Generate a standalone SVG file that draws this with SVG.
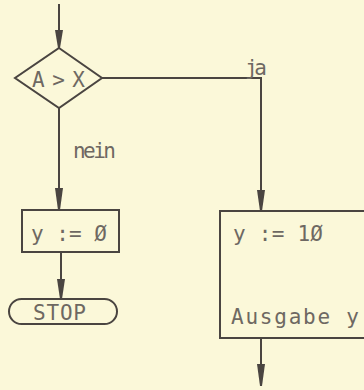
<svg xmlns="http://www.w3.org/2000/svg" width="364" height="390" viewBox="0 0 364 390">
<defs>
<style>
.ln{fill:none;stroke:#4a4541;stroke-width:2}
.sh{fill:none;stroke:#4a4541;stroke-width:2}
.tx{font-family:"DejaVu Sans Mono","Liberation Mono",monospace;font-size:21px;fill:#6e6862}
.hd{fill:#4a4541}
</style>
</defs>
<rect width="364" height="390" fill="#fbf8d9"/>
<g id="connectors">
<line class="ln" x1="59" y1="4" x2="59" y2="48"/>
<polygon class="hd" points="55,30 63,30 60,48 58,48"/>
<line class="ln" x1="59" y1="108" x2="59" y2="210"/>
<polygon class="hd" points="55,188 63,188 60,210 58,210"/>
<line class="ln" x1="102" y1="78" x2="262" y2="78"/>
<line class="ln" x1="261" y1="78" x2="261" y2="211"/>
<polygon class="hd" points="257,190 265,190 262,211 260,211"/>
<line class="ln" x1="61" y1="252" x2="61" y2="299"/>
<polygon class="hd" points="57,279 65,279 62,299 60,299"/>
<line class="ln" x1="261" y1="338" x2="261" y2="386"/>
<polygon class="hd" points="257,364 265,364 262,386 260,386"/>
<text class="tx" x="245" y="75" textLength="22">ja</text>
<text class="tx" x="73" y="158" textLength="43">nein</text>
</g>
<g id="decision">
<polygon class="sh" points="59,48 102,78 59,108 15,78"/>
<text class="tx" x="32" y="87" textLength="53">A &gt; X</text>
</g>
<g id="assign0">
<rect class="sh" x="22" y="210" width="97" height="42"/>
<text class="tx" x="31" y="241" textLength="76">y := Ø</text>
</g>
<g id="stop">
<rect class="sh" x="9" y="299" width="108" height="25" rx="12.5"/>
<text class="tx" x="33" y="320" textLength="53">STOP</text>
</g>
<g id="assign10">
<rect class="sh" x="220" y="211" width="160" height="127"/>
<text class="tx" x="233" y="241" textLength="90">y := 1Ø</text>
<text class="tx" x="231" y="324" textLength="128">Ausgabe y</text>
</g>
</svg>
